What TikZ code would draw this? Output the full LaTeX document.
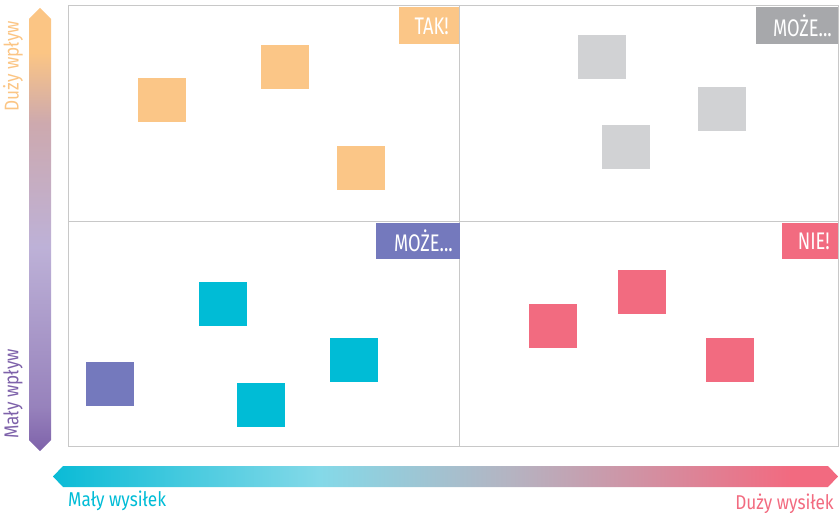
\documentclass[tikz,border=0pt]{standalone}
\usepackage{fontspec}
\setmainfont{Fira Sans}[FakeStretch=0.76]
\newfontfamily\labfont{Fira Sans}[FakeStretch=0.86]
\usetikzlibrary{positioning}
\definecolor{cOrange}{HTML}{FBC687}
\definecolor{cGray}{HTML}{D1D2D4}
\definecolor{cGrayTag}{HTML}{A7A8AB}
\definecolor{cCyan}{HTML}{00BCD6}
\definecolor{cPurple}{HTML}{7479BD}
\definecolor{cPink}{HTML}{F26B80}
\definecolor{cLine}{HTML}{C8C8C8}
\definecolor{cVbot}{HTML}{7E62AA}
\definecolor{cVlow}{HTML}{9782BC}
\definecolor{cVmid}{HTML}{BDB1D7}
\definecolor{cVmau}{HTML}{CDA9AE}
\definecolor{cVtop}{HTML}{FBC584}
\definecolor{cHl}{HTML}{0ABBD6}
\definecolor{cHlc}{HTML}{84D9E8}
\definecolor{cHg}{HTML}{B4B4C2}
\definecolor{cHr}{HTML}{F26A80}
\pgfdeclareverticalshading{vgrad}{100bp}{color(0bp)=(cVbot); color(25bp)=(cVbot); color(30bp)=(cVlow); color(48bp)=(cVmid); color(62bp)=(cVmau); color(70bp)=(cVtop); color(100bp)=(cVtop)}
\pgfdeclarehorizontalshading{hgrad}{100bp}{color(0bp)=(cHl); color(25bp)=(cHl); color(42bp)=(cHlc); color(54bp)=(cHg); color(72bp)=(cHr); color(100bp)=(cHr)}
\tikzset{
  sq/.style={fill=#1, minimum width=48pt, minimum height=44pt, inner sep=0pt, anchor=north west},
  tag/.style={fill=#1, minimum height=37pt, inner sep=0pt, anchor=north east},
  tagtext/.style={text=white, font=\fontsize{24}{24}\selectfont, inner sep=0pt},
  axlab/.style={font=\labfont\fontsize{20}{20}\selectfont, inner sep=0pt},
  grid/.style={draw=cLine, line width=1pt}
}
\begin{document}
\begin{tikzpicture}[x=1pt,y=-1pt]
\useasboundingbox (0,0) rectangle (839,513);
% frame
\draw[grid] (68,6) rectangle (838,446);
\draw[grid] (459,6) -- (459,446);
\draw[grid] (68,222) -- (838,222);
% squares
\node[sq=cOrange] (o1) at (138,78) {};
\node[sq=cOrange] (o2) at (261,45) {};
\node[sq=cOrange] (o3) at (337,146) {};
\node[sq=cGray] (g1) at (578,35) {};
\node[sq=cGray] (g2) at (698,87) {};
\node[sq=cGray] (g3) at (602,125) {};
\node[sq=cCyan] (c1) at (199,282) {};
\node[sq=cCyan] (c2) at (330,338) {};
\node[sq=cCyan] (c3) at (237,383) {};
\node[sq=cPurple] (p1) at (86,362) {};
\node[sq=cPink] (r1) at (529,304) {};
\node[sq=cPink] (r2) at (618,270) {};
\node[sq=cPink] (r3) at (706,338) {};
% tags
\node[tag=cOrange, minimum width=60pt] (tak) at (459.5,7) {};
\node[tagtext, anchor=east] (taktxt) at (449,26) {TAK!};
\node[tag=cGrayTag, minimum width=82pt] (moze1) at (838.5,7) {};
\node[tagtext, anchor=east] (moze1txt) at (832,26) {MOŻE...};
\node[tag=cPurple, minimum width=84pt, minimum height=36pt] (moze2) at (460,222.5) {};
\node[tagtext, anchor=east] (moze2txt) at (453,241) {MOŻE...};
\node[tag=cPink, minimum width=56pt, minimum height=36pt] (nie) at (838.5,222.5) {};
\node[tagtext, anchor=east] (nietxt) at (830,241) {NIE!};
% axes
\shade[shading=vgrad] (40,8) -- (51,19) -- (51,440) -- (40,451) -- (29,440) -- (29,19) -- cycle;
\shade[shading=hgrad] (53,476.5) -- (63,466) -- (828,466) -- (838,476.5) -- (828,487) -- (63,487) -- cycle;
\node[axlab, text=cVtop, rotate=90] (duzywp) at (13,66) {Duży wpływ};
\node[axlab, text=cVbot, rotate=90] (malywp) at (13,394) {Mały wpływ};
\node[axlab, text=cCyan, anchor=base west] (malywy) at (68,506) {Mały wysiłek};
\node[axlab, text=cPink, anchor=base east] (duzywy) at (834,509) {Duży wysiłek};
\end{tikzpicture}
\end{document}
